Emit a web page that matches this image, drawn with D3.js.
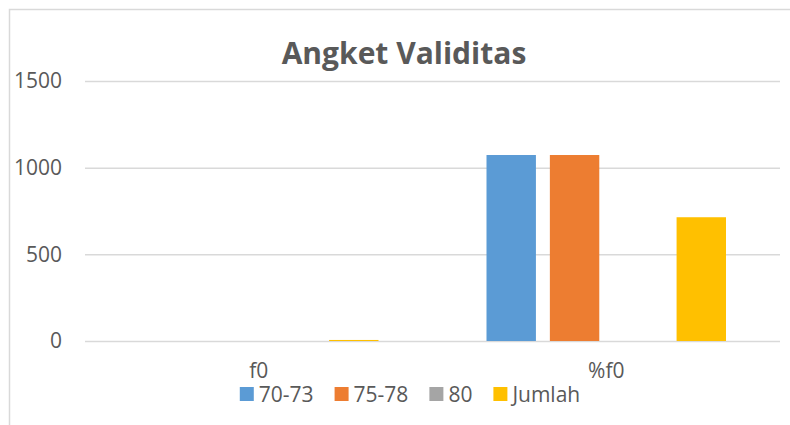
<!DOCTYPE html>
<html>
<head>
<meta charset="utf-8">
<script src="https://cdn.jsdelivr.net/npm/d3@7"></script>
<style>
  body { margin: 0; background: #fff; }
  text { font-family: "Open Sans", sans-serif; fill: #595959; }
</style>
</head>
<body>
<svg id="chart"></svg>
<script>
const categories = ['f0', '%f0'];
const seriesNames = ['70-73', '75-78', '80', 'Jumlah'];
const seriesColors = ['#5B9BD5', '#ED7D31', '#A5A5A5', '#FFC000'];
const values7073 = [0, 1073];
const values7578 = [0, 1073];
const values80 = [0, 0];
const valuesJumlah = [6, 714];
const yTicks = [0, 500, 1000, 1500];

const w = 790, h = 425;
const margin = { left: 85, right: 10, top: 81, bottom: 84 };

const allValues = [values7073, values7578, values80, valuesJumlah];
const data = categories.map((c, i) => ({
    cat: c,
    vals: seriesNames.map((s, j) => ({ name: s, value: allValues[j][i], color: seriesColors[j] }))
}));

const chart = d3.select('#chart')
    .attr('width', w)
    .attr('height', h);

// outer frame
chart.append('rect')
    .attr('x', 9.5).attr('y', 9.5)
    .attr('width', w + 10).attr('height', h + 10)
    .attr('fill', 'none')
    .attr('stroke', '#d9d9d9')
    .attr('stroke-width', 1.5);

const yScale = d3.scaleLinear()
    .domain([0, 1500])
    .range([h - margin.bottom, margin.top]);

const x0 = d3.scaleBand()
    .domain(categories)
    .range([margin.left, w - margin.right])
    .padding(0);

const outer = 54;
const x1 = d3.scaleBand()
    .domain(seriesNames)
    .range([outer, x0.bandwidth() - outer])
    .paddingInner(0.22)
    .paddingOuter(0);

// gridlines + y labels
const yAxis = chart.append('g')
    .attr('transform', `translate(${margin.left},0)`)
    .call(d3.axisLeft(yScale).tickValues(yTicks).tickFormat(d3.format('d'))
        .tickSize(-(w - margin.left - margin.right)).tickPadding(23));
yAxis.select('.domain').remove();
yAxis.selectAll('.tick line').attr('stroke', '#d9d9d9').attr('stroke-width', 1.5);
yAxis.selectAll('.tick text')
    .attr('font-size', '21px')
    .style('font-family', '"Open Sans", sans-serif')
    .attr('fill', '#595959');

// bars
const groups = chart.append('g').selectAll('g')
    .data(data)
    .join('g')
    .attr('transform', d => `translate(${x0(d.cat)},0)`);

groups.selectAll('rect')
    .data(d => d.vals)
    .join('rect')
    .attr('x', d => x1(d.name))
    .attr('width', x1.bandwidth())
    .attr('y', d => yScale(d.value))
    .attr('height', d => yScale(0) - yScale(d.value))
    .attr('fill', d => d.color);

// category labels
chart.append('g').selectAll('text')
    .data(categories)
    .join('text')
    .attr('x', d => x0(d) + x0.bandwidth() / 2)
    .attr('y', 378)
    .attr('text-anchor', 'middle')
    .attr('font-size', '21px')
    .text(d => d);

// title
chart.append('text')
    .attr('x', 404)
    .attr('y', 64)
    .attr('text-anchor', 'middle')
    .attr('font-size', '30px')
    .attr('font-weight', 'bold')
    .text('Angket Validitas');

// legend
const legend = chart.append('g');
let lx = 0;
seriesNames.forEach((s, i) => {
    const item = legend.append('g').attr('transform', `translate(${lx},0)`);
    item.append('rect')
        .attr('x', 0).attr('y', -7)
        .attr('width', 14).attr('height', 14)
        .attr('fill', seriesColors[i]);
    const t = item.append('text')
        .attr('x', 19).attr('y', 8)
        .attr('font-size', '21px')
        .text(s);
    lx += 19 + t.node().getComputedTextLength() + 21;
});
const legendWidth = lx - 21;
legend.attr('transform', `translate(${410 - legendWidth / 2},394)`);
</script>
</body>
</html>
